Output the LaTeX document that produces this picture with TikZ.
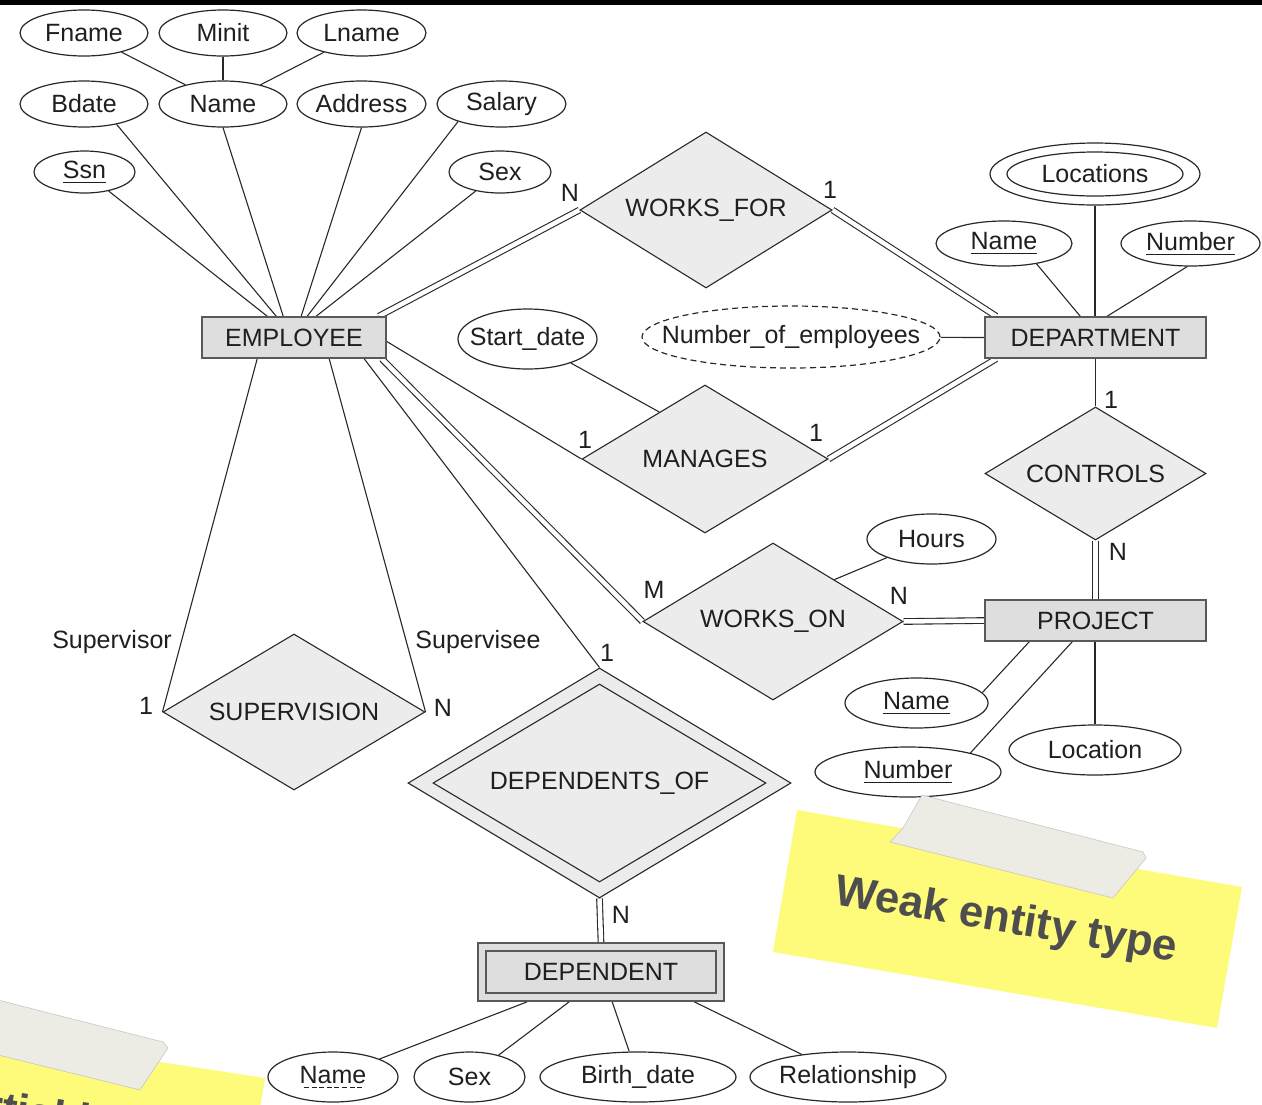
\documentclass[tikz,border=0pt]{standalone}
\usepackage{fontspec}
\setmainfont{Liberation Sans}
\usetikzlibrary{shapes.geometric,calc}
\pgfdeclarelayer{background}
\pgfsetlayers{background,main}
\definecolor{rectfill}{RGB}{222,222,222}
\definecolor{diafill}{RGB}{236,236,236}
\definecolor{linec}{RGB}{40,40,40}
\definecolor{notey}{RGB}{255,251,122}
\definecolor{tapec}{RGB}{236,235,228}
\definecolor{notetext}{RGB}{78,78,78}
\newcommand\attrul[1]{\setbox0=\hbox{#1}\rlap{\rule[-4.5pt]{\wd0}{1.3pt}}\box0}
\newcommand\attrdul[1]{\setbox0=\hbox{#1}\rlap{\raisebox{-4.5pt}{\hbox to\wd0{\cleaders\hbox{\kern1.3pt\rule{5pt}{1.2pt}\kern1.3pt}\hfill}}}\box0}
\begin{document}
\begin{tikzpicture}[x=1pt,y=-1pt,
  every node/.style={font=\fontsize{25}{29}\selectfont, text=black!88},
  attr/.style={ellipse, draw=linec, line width=1.2pt, fill=white, inner sep=-3pt},
  ent/.style={rectangle, draw=black!65, line width=1.6pt, fill=rectfill, inner sep=0pt},
  rel/.style={diamond, draw=linec, line width=1.1pt, fill=diafill, inner sep=0pt},
  conn/.style={draw=linec, line width=1.1pt},
  dbl/.style={draw=linec, line width=1.1pt, double=white, double distance=4.5pt},
  card/.style={inner sep=0pt},
  notefont/.style={font=\fontsize{44}{50}\selectfont\bfseries, text=notetext, inner sep=0pt, anchor=base west}
]
\useasboundingbox (0,0) rectangle (1262,1104);
\fill[black] (0,0) rectangle (1262,5);

% attributes of EMPLOYEE
\node[attr,minimum width=128pt,minimum height=46pt] (fname) at (84,33) {Fname};
\node[attr,minimum width=128pt,minimum height=46pt] (minit) at (223,33) {Minit};
\node[attr,minimum width=129pt,minimum height=46pt] (lname) at (361.5,33) {Lname};
\node[attr,minimum width=128pt,minimum height=46pt] (bdate) at (84,104) {Bdate};
\node[attr,minimum width=128pt,minimum height=46pt] (ename) at (223,104) {Name};
\node[attr,minimum width=129pt,minimum height=46pt] (address) at (361.5,104) {Address};
\node[attr,minimum width=129pt,minimum height=46pt] (salary) at (501.5,104) {Salary};
\node[attr,minimum width=101pt,minimum height=42pt] (ssn) at (84.5,172) {\attrul{Ssn}};
\node[attr,minimum width=102pt,minimum height=42pt] (esex) at (500,172) {Sex};

% attributes of DEPARTMENT
\node[attr,minimum width=210pt,minimum height=62pt] (loco) at (1095,174) {};
\node[attr,minimum width=176pt,minimum height=44pt] (loci) at (1095,174) {Locations};
\node[attr,minimum width=136pt,minimum height=45pt] (dname) at (1004,243.5) {\attrul{Name}};
\node[attr,minimum width=139pt,minimum height=45pt] (dnum) at (1190.5,243.5) {\attrul{Number}};
\node[attr,minimum width=298pt,minimum height=62pt,dash pattern=on 6pt off 4pt,
      label={[inner sep=0pt]center:Number\_of\_employees}] (noe) at (791,337) {};

% other attributes
\node[attr,minimum width=139pt,minimum height=60pt,
      label={[inner sep=0pt]center:Start\_date}] (startd) at (527.5,339) {};
\node[attr,minimum width=129pt,minimum height=50pt] (hours) at (931.5,539) {Hours};
\node[attr,minimum width=143pt,minimum height=50pt] (pname) at (916.5,703) {\attrul{Name}};
\node[attr,minimum width=172pt,minimum height=50pt] (ploc) at (1095,750) {Location};
\node[attr,minimum width=186pt,minimum height=50pt] (pnum) at (908,772) {\attrul{Number}};
\node[attr,minimum width=130pt,minimum height=50pt] (dpname) at (333,1077) {\attrdul{Name}};
\node[attr,minimum width=111pt,minimum height=50pt] (dpsex) at (469.5,1077) {Sex};
\node[attr,minimum width=196pt,minimum height=50pt] (bdate2) at (638,1077) {Birth\_date};
\node[attr,minimum width=196pt,minimum height=50pt] (relsh) at (848,1077) {Relationship};

% entities
\node[ent,minimum width=184pt,minimum height=41pt] (emp) at (294,337.5) {EMPLOYEE};
\node[ent,minimum width=221pt,minimum height=41pt] (dept) at (1095.5,337.5) {DEPARTMENT};
\node[ent,minimum width=221pt,minimum height=41pt] (proj) at (1095.5,620.5) {PROJECT};
\node[ent,minimum width=246pt,minimum height=58pt] (dep) at (601,972) {};
\node[ent,minimum width=230pt,minimum height=42pt] (depi) at (601,972) {DEPENDENT};

% relationships
\node[rel,minimum width=252pt,minimum height=156pt,aspect=1.615] (wf) at (706,210) {WORKS\_FOR};
\node[rel,minimum width=246pt,minimum height=148pt,aspect=1.66] (mg) at (705,459) {MANAGES};
\node[rel,minimum width=221pt,minimum height=133pt,aspect=1.66] (ctrl) at (1095.5,473.5) {CONTROLS};
\node[rel,minimum width=260pt,minimum height=157pt,aspect=1.656] (wo) at (773,621.5) {WORKS\_ON};
\node[rel,minimum width=262pt,minimum height=156pt,aspect=1.68] (sup) at (294,712) {SUPERVISION};
\node[rel,minimum width=383pt,minimum height=230pt,aspect=1.665] (dofo) at (599.5,783) {};
\node[rel,minimum width=333pt,minimum height=198pt,aspect=1.68] (dof) at (599.5,783) {DEPENDENTS\_OF};

% cardinalities and roles
\node[card] (c1) at (570,193) {N};
\node[card] (c2) at (830,190) {1};
\node[card] (c3) at (585,440) {1};
\node[card] (c4) at (816,433) {1};
\node[card] (c5) at (1111,400) {1};
\node[card] (c6) at (1118,552) {N};
\node[card] (c7) at (654,590) {M};
\node[card] (c8) at (899,596) {N};
\node[card] (c9) at (607,653) {1};
\node[card] (c10) at (621,915) {N};
\node[card] (c11) at (146,706) {1};
\node[card] (c12) at (443,708) {N};
\node[card] (r1) at (112,642) {Supervisor};
\node[card] (r2) at (478,642) {Supervisee};

\begin{pgfonlayer}{background}
  % name composite
  \draw[conn] (fname) -- (ename);
  \draw[conn] (minit) -- (ename);
  \draw[conn] (lname) -- (ename);
  % employee attributes
  \draw[conn] (ssn) -- ($(emp.north west)+(66,0)$);
  \draw[conn] (bdate.-32) -- ($(emp.north west)+(75,0)$);
  \draw[conn] (ename.south) -- ($(emp.north west)+(82,0)$);
  \draw[conn] (address.south) -- ($(emp.north west)+(100,0)$);
  \draw[conn] (salary.-158) -- ($(emp.north west)+(106,0)$);
  \draw[conn] (esex) -- ($(emp.north west)+(115,0)$);
  % employee relationships
  \draw[dbl] ($(emp.north east)+(-8,0)$) -- (wf.west);
  \draw[conn] ($(emp.east)+(0,4)$) -- (mg.west);
  \draw[dbl] ($(emp.south east)+(-5,0)$) -- (wo.west);
  \draw[conn] ($(emp.south west)+(163,0)$) -- (dofo.north);
  \draw[conn] ($(emp.south west)+(56,0)$) -- (sup.west);
  \draw[conn] ($(emp.south west)+(128,0)$) -- (sup.east);
  % department
  \draw[dbl] (wf.east) -- ($(dept.north west)+(12,0)$);
  \draw[dbl] (mg.east) -- ($(dept.south west)+(12,0)$);
  \draw[conn] (startd) -- ($(mg.west)!0.63!(mg.north)$);
  \draw[conn] (noe) -- (dept.west);
  \draw[conn] (dname.-32) -- ($(dept.north west)+(96,0)$);
  \draw[conn] (loco) -- (loco |- dept.north);
  \draw[conn] (dnum.-98) -- ($(dept.north west)+(123,0)$);
  \draw[conn] (dept.south) -- (ctrl.north);
  \draw[dbl] (ctrl.south) -- (proj.north);
  % project
  \draw[dbl] (wo.east) -- (proj.west);
  \draw[conn] (hours) -- ($(wo.north)!0.47!(wo.east)$);
  \draw[conn] (pname.9) -- ($(proj.south west)+(45,0)$);
  \draw[conn] (pnum.17) -- ($(proj.south west)+(88,0)$);
  \draw[conn] (ploc) -- (ploc |- proj.south);
  % dependent
  \draw[dbl] (dofo.south) -- (dep.north);
  \draw[conn] (dpname) -- ($(dep.south west)+(50,0)$);
  \draw[conn] (dpsex) -- ($(dep.south west)+(92,0)$);
  \draw[conn] (bdate2) -- ($(dep.south west)+(135,0)$);
  \draw[conn] (relsh) -- ($(dep.south west)+(217,0)$);
\end{pgfonlayer}

% sticky notes
\begin{scope}
  \clip (0,0) rectangle (1262,1104);
  \fill[notey] (797,810) -- (1242,887) -- (1217,1028) -- (773,952) -- cycle;
  \node[notefont,rotate=-9.5] (weak) at (833,904) {Weak entity type};
  \fill[tapec] (922,795) -- (1143,852) -- (1146,858) -- (1113,898) -- (890,842) -- (903,828) -- cycle;
  \draw[black!22,line width=0.6pt] (922,795) -- (1143,852) -- (1146,858) -- (1113,898) -- (890,842) -- (903,828) -- cycle;
  \fill[notey] (-10,1036) -- (265,1078) -- (258,1120) -- (-10,1120) -- cycle;
  \node[notefont,rotate=-9] (partial) at (-70,1111) {Partial key};
  \fill[tapec] (-10,998) -- (163,1042) -- (168,1048) -- (140,1090) -- (-10,1053) -- cycle;
  \draw[black!22,line width=0.6pt] (-10,998) -- (163,1042) -- (168,1048) -- (140,1090) -- (-10,1053);
\end{scope}
\end{tikzpicture}
\end{document}
